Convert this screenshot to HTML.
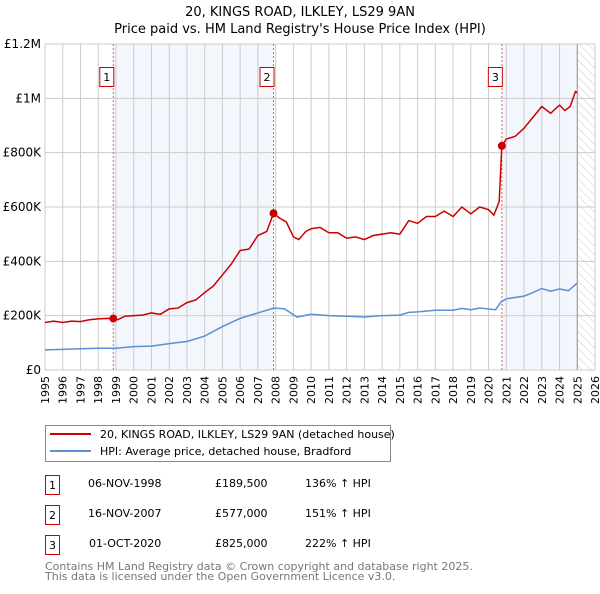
<!DOCTYPE html>
<html><head><meta charset="utf-8"><style>
body{margin:0;background:#fff;font-family:"DejaVu Sans","Liberation Sans",sans-serif;}
svg text{font-family:"DejaVu Sans","Liberation Sans",sans-serif;}
</style></head><body>
<svg id="c" width="600" height="590" xmlns="http://www.w3.org/2000/svg">
<defs><pattern id="hatch" width="6" height="6" patternUnits="userSpaceOnUse" patternTransform="rotate(-45)"><line x1="0" y1="0" x2="0" y2="6" stroke="#ccc" stroke-width="1"/></pattern></defs>
<text x="300" y="16" text-anchor="middle" font-size="13">20, KINGS ROAD, ILKLEY, LS29 9AN</text>
<text x="300" y="33" text-anchor="middle" font-size="13">Price paid vs. HM Land Registry's House Price Index (HPI)</text>
<g id="plot"></g>
<g>
<rect x="45.5" y="425.5" width="345" height="36" fill="#fff" stroke="#888"/>
<line x1="50" y1="434" x2="91" y2="434" stroke="#cc0000" stroke-width="2"/>
<text x="100" y="438" font-size="11">20, KINGS ROAD, ILKLEY, LS29 9AN (detached house)</text>
<line x1="50" y1="451" x2="91" y2="451" stroke="#5b8fd6" stroke-width="2"/>
<text x="100" y="455" font-size="11">HPI: Average price, detached house, Bradford</text>
</g>
<g font-size="11">
<rect x="45.5" y="475.5" width="14" height="19" fill="#fff" stroke="#cc0000"/><text x="52.5" y="489" text-anchor="middle">1</text>
<text x="88" y="487">06-NOV-1998</text><text x="215" y="487">£189,500</text><text x="305" y="487">136% ↑ HPI</text>
<rect x="45.5" y="505.5" width="14" height="19" fill="#fff" stroke="#cc0000"/><text x="52.5" y="519" text-anchor="middle">2</text>
<text x="88" y="517">16-NOV-2007</text><text x="215" y="517">£577,000</text><text x="305" y="517">151% ↑ HPI</text>
<rect x="45.5" y="535.5" width="14" height="19" fill="#fff" stroke="#cc0000"/><text x="52.5" y="549" text-anchor="middle">3</text>
<text x="89" y="547">01-OCT-2020</text><text x="215" y="547">£825,000</text><text x="305" y="547">222% ↑ HPI</text>
</g>
<text x="45" y="570" font-size="11" fill="#777">Contains HM Land Registry data © Crown copyright and database right 2025.</text>
<text x="45" y="580" font-size="11" fill="#777">This data is licensed under the Open Government Licence v3.0.</text>
</svg>
<script>
const yTicks=[0,200,400,600,800,1000,1200];
const yTickLabels=["£0","£200K","£400K","£600K","£800K","£1M","£1.2M"];
const xYears=[1995,1996,1997,1998,1999,2000,2001,2002,2003,2004,2005,2006,2007,2008,2009,2010,2011,2012,2013,2014,2015,2016,2017,2018,2019,2020,2021,2022,2023,2024,2025,2026];
const saleDates=[1998.85,2007.88,2020.75];
const salePrices=[189.5,577,825];
const saleLabels=["1","2","3"];
const propT=[1995,1995.5,1996,1996.5,1997,1997.5,1998,1998.5,1998.85,1999.1,1999.5,2000,2000.5,2001,2001.5,2002,2002.5,2003,2003.5,2004,2004.5,2005,2005.5,2006,2006.5,2007,2007.5,2007.88,2008.2,2008.6,2009,2009.3,2009.7,2010,2010.5,2011,2011.5,2012,2012.5,2013,2013.5,2014,2014.5,2015,2015.5,2016,2016.5,2017,2017.5,2018,2018.5,2019,2019.5,2020,2020.3,2020.6,2020.75,2021,2021.5,2022,2022.5,2023,2023.5,2024,2024.3,2024.6,2024.9,2025];
const propV=[175,180,175,180,178,185,188,190,189.5,185,198,200,202,210,205,225,228,248,258,285,310,350,390,440,445,495,510,577,560,545,490,480,510,520,525,505,505,485,490,480,495,500,505,500,550,540,565,565,585,565,600,575,600,590,570,620,825,850,860,890,930,970,945,975,955,970,1025,1020];
const hpiT=[1995,1996,1997,1998,1999,2000,2001,2002,2003,2004,2005,2006,2007,2007.9,2008.5,2009.2,2010,2011,2012,2013,2014,2015,2015.5,2016,2017,2018,2018.5,2019,2019.5,2020.4,2020.7,2021,2022,2022.5,2023,2023.5,2024,2024.5,2025];
const hpiV=[74,76,78,80,80,86,88,97,105,125,160,190,210,228,225,195,205,200,198,195,200,202,212,214,220,220,227,222,228,222,250,262,272,285,300,290,298,292,320];
const X0=45,X1=595,Y0=370,Y1=44;
const xs=t=>X0+(t-1995)/(2026-1995)*(X1-X0);
const ys=v=>Y0-v/1200*(Y0-Y1);
const NS="http://www.w3.org/2000/svg";
const g=document.getElementById('plot');
function mk(tag,attrs,parent){const e=document.createElementNS(NS,tag);for(const k in attrs)e.setAttribute(k,attrs[k]);(parent||g).appendChild(e);return e;}
let r;
r=mk('rect',{x:xs(saleDates[0]),y:Y1,width:xs(saleDates[1])-xs(saleDates[0]),height:Y0-Y1,fill:'#f3f6fd'});


r=mk('rect',{x:xs(saleDates[2]),y:Y1,width:xs(2025)-xs(saleDates[2]),height:Y0-Y1,fill:'#f3f6fd'});


r=mk('rect',{x:xs(2025),y:Y1,width:xs(2026)-xs(2025),height:Y0-Y1,fill:'url(#hatch)'});


xYears.forEach(y=>{const l=mk('line',{x1:xs(y),x2:xs(y),y1:Y1,y2:Y0,stroke:'#ccc','stroke-width':1});


const t=mk('text',{x:0,y:0,'font-size':11,'text-anchor':'end',transform:`translate(${xs(y)+4},${Y0+6}) rotate(-90)`});t.textContent=y;

});
yTicks.forEach((v,i)=>{const l=mk('line',{x1:X0,x2:X1,y1:ys(v),y2:ys(v),stroke:'#ccc','stroke-width':1});


const t=mk('text',{x:X0-4,y:ys(v)+4,'font-size':12,'text-anchor':'end'});t.textContent=yTickLabels[i];

});
r=mk('line',{x1:xs(2025),x2:xs(2025),y1:Y1,y2:Y0,stroke:'#999','stroke-width':1});


saleDates.forEach((d,i)=>{const l=mk('line',{x1:xs(d),x2:xs(d),y1:Y1,y2:Y0,stroke:'#e06060','stroke-width':1,'stroke-dasharray':'2,2'});


const bx=mk('rect',{x:xs(d)-13.5,y:67.5,width:14,height:19,fill:'#fff',stroke:'#cc0000'});


const t=mk('text',{x:xs(d)-6.5,y:81,'font-size':11,'text-anchor':'middle'});t.textContent=saleLabels[i];

});
const hp=mk('polyline',{points:hpiT.map((t,i)=>xs(t)+','+ys(hpiV[i])).join(' '),fill:'none',stroke:'#5b8fd6','stroke-width':1.5});


const pp=mk('polyline',{points:propT.map((t,i)=>xs(t)+','+ys(propV[i])).join(' '),fill:'none',stroke:'#cc0000','stroke-width':1.5});


saleDates.forEach((d,i)=>{const c=mk('circle',{cx:xs(d),cy:ys(salePrices[i]),r:4,fill:'#cc0000'});

});
</script>
</body></html>
